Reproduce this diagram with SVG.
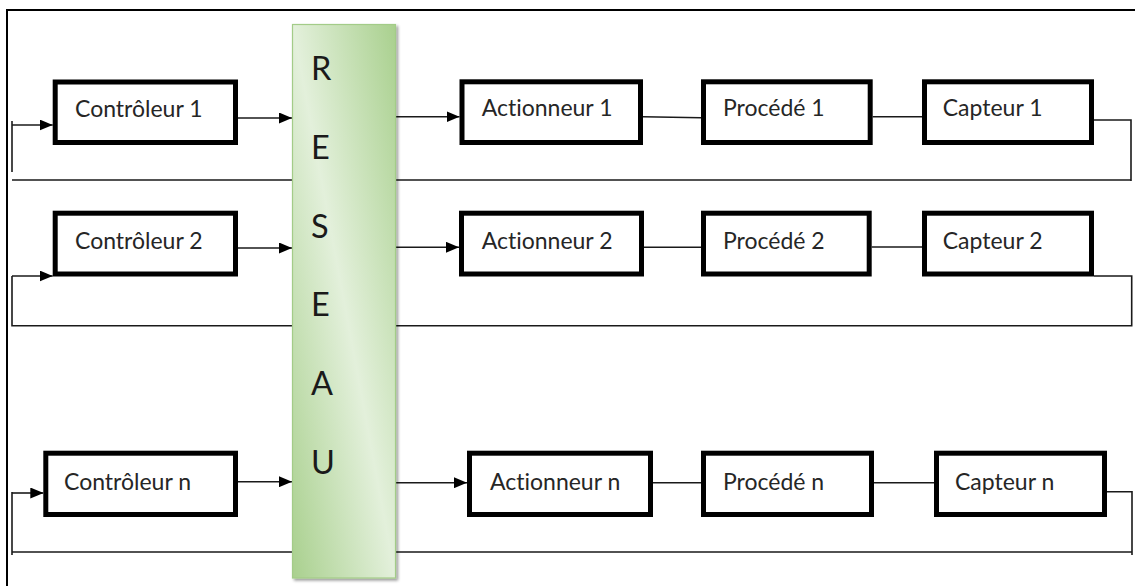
<svg xmlns="http://www.w3.org/2000/svg" width="1135" height="586" viewBox="0 0 1135 586">
  <style>
    .box { fill: #ffffff; stroke: #000000; stroke-width: 5; }
    .lbl { font-family: Lato, "Open Sans", "Liberation Sans", sans-serif; font-size: 23px; fill: #262626; font-variant-ligatures: none; font-feature-settings: "liga" 0, "clig" 0; }
    .big { font-family: Lato, "Open Sans", "Liberation Sans", sans-serif; font-size: 32.5px; fill: #1a1a1a; }
    .wire { fill: none; stroke: #1a1a1a; stroke-width: 1.6; }
    .arr { marker-end: url(#head); }
    .frame { fill: none; stroke: #000000; stroke-width: 2; }
  </style>
  <defs>
    <marker id="head" markerUnits="userSpaceOnUse" markerWidth="13" markerHeight="11" refX="13" refY="5.5" orient="auto">
      <path d="M0,0 L13,5.5 L0,11 Z" fill="#000000"/>
    </marker>
    <linearGradient id="netFill" x1="1" y1="0" x2="0" y2="1">
      <stop offset="0" stop-color="#a9d08e"/>
      <stop offset="0.5" stop-color="#e3f0db"/>
      <stop offset="1" stop-color="#a9d08e"/>
    </linearGradient>
    <filter id="shadow" x="-10%" y="-5%" width="130%" height="115%">
      <feGaussianBlur in="SourceAlpha" stdDeviation="1.5"/>
      <feOffset dx="2" dy="2" result="b"/>
      <feComponentTransfer><feFuncA type="linear" slope="0.4"/></feComponentTransfer>
      <feMerge><feMergeNode/><feMergeNode in="SourceGraphic"/></feMerge>
    </filter>
  </defs>

  <rect width="1135" height="586" fill="#ffffff"/>
  <path class="frame" d="M7,586 V10 H1135"/>

  <g id="connectors">
    <!-- loop 1 -->
    <path class="wire arr" d="M238,118 H292"/>
    <path class="wire arr" d="M396,116.7 H459.5"/>
    <path class="wire" d="M643,116.7 L701,117.7"/>
    <path class="wire" d="M872.7,116.7 H922"/>
    <path class="wire" d="M1094,120 H1131 V181 M1131,180 H12"/>
    <path class="wire" d="M12,172 V121"/>
    <path class="wire arr" d="M12,125 H52.7"/>
    <!-- loop 2 -->
    <path class="wire arr" d="M238,248 H292"/>
    <path class="wire arr" d="M396,247.3 H459"/>
    <path class="wire" d="M644,247.3 H701"/>
    <path class="wire" d="M871.7,247 H922"/>
    <path class="wire" d="M1094,276 H1131.7 V325.7 H12 V276"/>
    <path class="wire arr" d="M12,276 H52.7"/>
    <!-- loop n -->
    <path class="wire arr" d="M238,481.7 H292"/>
    <path class="wire arr" d="M396,482.7 H467"/>
    <path class="wire" d="M653,482.7 H701"/>
    <path class="wire" d="M874,482.7 H934"/>
    <path class="wire" d="M1107,491.7 H1132 V555 M1132,552 H12"/>
    <path class="wire" d="M12,555 V492"/>
    <path class="wire arr" d="M12,493 H43.3"/>
  </g>

  <g id="reseau">
    <rect x="292.5" y="24.5" width="103" height="553.5" fill="url(#netFill)" stroke="#a3cc88" stroke-width="1.2" filter="url(#shadow)"/>
    <text class="big" x="311" y="80">R</text>
    <text class="big" x="311" y="158.8">E</text>
    <text class="big" x="311" y="237.6">S</text>
    <text class="big" x="311" y="316.4">E</text>
    <text class="big" x="311" y="395.2">A</text>
    <text class="big" x="311" y="474">U</text>
  </g>

  <g id="controleur1">
    <rect class="box" x="55.2" y="82" width="180.3" height="60.5"/>
    <text class="lbl" x="75" y="116.7">Contrôleur 1</text>
  </g>
  <g id="actionneur1">
    <rect class="box" x="462" y="81.8" width="178.5" height="60.7"/>
    <text class="lbl" x="481.7" y="116">Actionneur 1</text>
  </g>
  <g id="procede1">
    <rect class="box" x="703.5" y="81.8" width="166.7" height="60.7"/>
    <text class="lbl" x="723" y="116">Procédé 1</text>
  </g>
  <g id="capteur1">
    <rect class="box" x="924.5" y="81.8" width="167" height="60.7"/>
    <text class="lbl" x="942.7" y="116">Capteur 1</text>
  </g>

  <g id="controleur2">
    <rect class="box" x="55.2" y="213.2" width="180.3" height="60.8"/>
    <text class="lbl" x="75" y="248.5">Contrôleur 2</text>
  </g>
  <g id="actionneur2">
    <rect class="box" x="461.5" y="213.2" width="180" height="60.8"/>
    <text class="lbl" x="481.7" y="248.5">Actionneur 2</text>
  </g>
  <g id="procede2">
    <rect class="box" x="703.5" y="213.2" width="165.7" height="60.8"/>
    <text class="lbl" x="723" y="248.5">Procédé 2</text>
  </g>
  <g id="capteur2">
    <rect class="box" x="924.5" y="213.2" width="167" height="60.8"/>
    <text class="lbl" x="942.7" y="248.5">Capteur 2</text>
  </g>

  <g id="controleurn">
    <rect class="box" x="45.8" y="453.2" width="189.7" height="61.3"/>
    <text class="lbl" x="64" y="490">Contrôleur n</text>
  </g>
  <g id="actionneurn">
    <rect class="box" x="469.5" y="453.2" width="181" height="61.3"/>
    <text class="lbl" x="490" y="490">Actionneur n</text>
  </g>
  <g id="procede-n">
    <rect class="box" x="703.5" y="453.2" width="168" height="61.3"/>
    <text class="lbl" x="723" y="490">Procédé n</text>
  </g>
  <g id="capteurn">
    <rect class="box" x="936.5" y="453.2" width="168" height="61.3"/>
    <text class="lbl" x="955" y="490">Capteur n</text>
  </g>
</svg>
